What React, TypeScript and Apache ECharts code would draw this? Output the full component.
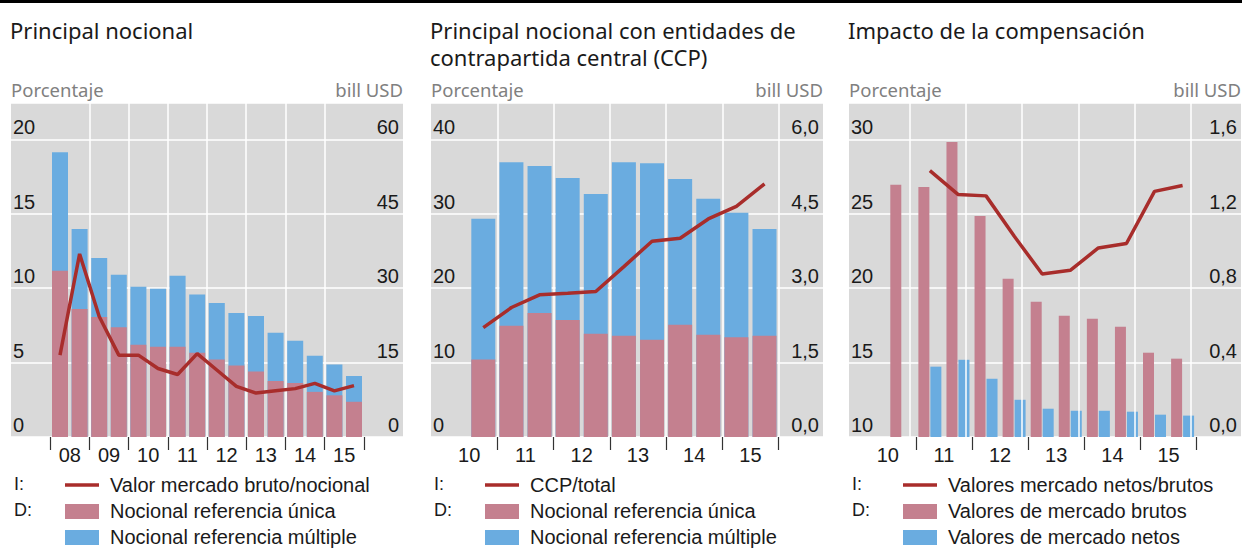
import React, { useEffect, useRef } from 'react';
import * as echarts from 'echarts';

// ---------- Data ----------
// Panel 1: Principal nocional (semesters 2008 H1 .. 2015 H2)
const periods1 = ['2008-1','2008-2','2009-1','2009-2','2010-1','2010-2','2011-1','2011-2','2012-1','2012-2','2013-1','2013-2','2014-1','2014-2','2015-1','2015-2'];
const single1 = [33.5, 25.8, 24.2, 22.1, 18.6, 18.2, 18.2, 17.0, 15.6, 14.4, 13.2, 11.3, 10.9, 9.1, 8.4, 7.1];
const multiple1 = [23.9, 16.1, 11.9, 10.6, 11.7, 11.7, 14.3, 11.7, 11.4, 10.6, 11.2, 9.7, 8.5, 7.3, 6.2, 5.2];
const ratio1 = [5.5, 12.3, 8.1, 5.5, 5.5, 4.6, 4.2, 5.6, 4.5, 3.4, 2.95, 3.1, 3.25, 3.6, 3.1, 3.45];
const years1 = [2008, 2009, 2010, 2011, 2012, 2013, 2014, 2015, 2016];

// Panel 2: CCP (2010 H2 .. 2015 H2)
const periods2 = ['2010-2','2011-1','2011-2','2012-1','2012-2','2013-1','2013-2','2014-1','2014-2','2015-1','2015-2'];
const single2 = [1.56, 2.24, 2.50, 2.36, 2.08, 2.04, 1.96, 2.26, 2.06, 2.01, 2.04];
const multiple2 = [2.84, 3.30, 2.96, 2.86, 2.82, 3.50, 3.56, 2.94, 2.74, 2.51, 2.15];
const ccp2 = [14.7, 17.4, 19.1, 19.3, 19.55, 22.9, 26.3, 26.7, 29.3, 31.0, 34.0];
const years2 = [2010, 2011, 2012, 2013, 2014, 2015, 2016];

// Panel 3: Impacto de la compensación
const periods3 = periods2;
const gross3 = [1.355, 1.344, 1.586, 1.188, 0.850, 0.727, 0.651, 0.635, 0.592, 0.453, 0.421];
const net3: (number | null)[] = [null, 0.378, 0.415, 0.313, 0.200, 0.152, 0.141, 0.141, 0.136, 0.120, 0.115];
const ratio3: (number | null)[] = [null, 27.9, 26.3, 26.2, 23.5, 20.95, 21.2, 22.7, 23.0, 26.5, 26.9];

const titles = ['Principal nocional', 'Principal nocional con entidades de\ncontrapartida central (CCP)', 'Impacto de la compensación'];
const legends = [
  ['Valor mercado bruto/nocional', 'Nocional referencia única', 'Nocional referencia múltiple'],
  ['CCP/total', 'Nocional referencia única', 'Nocional referencia múltiple'],
  ['Valores mercado netos/brutos', 'Valores de mercado brutos', 'Valores de mercado netos'],
];

// ---------- Style ----------
const RED = '#a82d2b';
const PINK = '#c4808f';
const BLUE = '#6aace0';
const BG = '#d9d9d9';
const TXT = '#1a1a1a';
const SANS = '"Liberation Sans", Arial, sans-serif';
const TITLE_FONT = '"Noto Sans", "Open Sans", sans-serif';

const toX = (p: string) => {
  const [y, h] = p.split('-');
  return Number(y) + (h === '1' ? 0.25 : 0.75);
};
const pairs = (periods: string[], vals: (number | null)[]) =>
  periods.map((p, i) => [toX(p), vals[i] == null ? '-' : vals[i]]);
// stacked top = single + multiple (drawn behind the single bar)
const totals = (a: number[], b: number[]) => a.map((v, i) => +(v + b[i]).toFixed(3));

const PLOT_TOP = 103;
const PLOT_H = 334;
const PLOT_W = 392;
const lefts = [11, 431, 849];

export default function App() {
  const ref = useRef<HTMLDivElement>(null);
  useEffect(() => {
    document.body.style.margin = '0';
    if (!ref.current) return;
    const chart = echarts.init(ref.current, undefined, { renderer: 'svg' });

    const xRanges = [
      [2007, 2017],
      [2009.82, 2016.79],
      [2009.81, 2016.79],
    ];
    const yLeft = [
      { min: 0, max: 22.44, interval: 5, fmt: (v: number) => String(v) },
      { min: 0, max: 44.88, interval: 10, fmt: (v: number) => String(v) },
      { min: 10, max: 32.44, interval: 5, fmt: (v: number) => String(v) },
    ];
    const yRight = [
      { min: 0, max: 67.32, interval: 15, fmt: (v: number) => String(v) },
      { min: 0, max: 6.732, interval: 1.5, fmt: (v: number) => v.toFixed(1).replace('.', ',') },
      { min: 0, max: 1.795, interval: 0.4, fmt: (v: number) => v.toFixed(1).replace('.', ',') },
    ];
    const yearSets = [years1, years2, years2];

    const grid = lefts.map((l) => ({
      left: l, top: PLOT_TOP, width: PLOT_W, height: PLOT_H,
      show: true, backgroundColor: BG, borderWidth: 0, containLabel: false, outerBoundsMode: 'none',
    }));

    const xAxis = [0, 1, 2].map((i) => {
      const ys = yearSets[i];
      return {
        type: 'value', gridIndex: i, min: xRanges[i][0], max: xRanges[i][1],
        splitLine: { show: false },
        axisLine: { show: false },
        axisTick: {
          show: true, length: 13, inside: false,
          customValues: (i === 0 ? ys : ys.slice(1)),
          lineStyle: { color: '#333', width: 1.2 },
        },
        axisLabel: {
          show: true, margin: 8,
          customValues: ys.slice(0, -1).map((y) => y + 0.5),
          formatter: (v: number) => String(Math.floor(v)).slice(2),
          fontFamily: SANS, fontSize: 20, color: TXT,
        },
      };
    });

    const yAxis: any[] = [];
    [0, 1, 2].forEach((i) => {
      const L = yLeft[i];
      const R = yRight[i];
      yAxis.push({
        type: 'value', gridIndex: i, position: 'left', min: L.min, max: L.max, interval: L.interval,
        axisLine: { show: false }, axisTick: { show: false },
        splitLine: { show: true, lineStyle: { color: '#ffffff', width: 1.5 } },
        axisLabel: {
          inside: true, margin: 2, showMaxLabel: false, verticalAlign: 'bottom', padding: [0, 0, 2, 0],
          formatter: (v: number) => (Math.abs(v / L.interval - Math.round(v / L.interval)) < 1e-6 ? L.fmt(v) : ''),
          fontFamily: SANS, fontSize: 20, color: TXT,
        },
      });
      yAxis.push({
        type: 'value', gridIndex: i, position: 'right', min: R.min, max: R.max, interval: R.interval,
        axisLine: { show: false }, axisTick: { show: false }, splitLine: { show: false },
        axisLabel: {
          inside: true, margin: 4, showMaxLabel: false, verticalAlign: 'bottom', padding: [0, 0, 2, 0],
          formatter: (v: number) => (Math.abs(v / R.interval - Math.round(v / R.interval)) < 1e-6 ? R.fmt(v) : ''),
          fontFamily: SANS, fontSize: 20, color: TXT,
        },
      });
    });

    const vLines = (years: number[]) => ({
      silent: true, symbol: 'none', animation: false,
      label: { show: false },
      lineStyle: { color: '#ffffff', width: 1.5, type: 'solid' },
      emphasis: { disabled: true },
      data: years.map((y) => ({ xAxis: y })),
    });

    const series: any[] = [
      // Panel 1: blue (total = single + multiple) behind, pink (single) in front
      { type: 'bar', name: 'Nocional referencia múltiple', xAxisIndex: 0, yAxisIndex: 1, barWidth: 16, barGap: '-100%',
        itemStyle: { color: BLUE }, data: pairs(periods1, totals(single1, multiple1)), markLine: vLines(years1.slice(1, -1)), z: 2 },
      { type: 'bar', name: 'Nocional referencia única', xAxisIndex: 0, yAxisIndex: 1, barWidth: 16, barGap: '-100%',
        itemStyle: { color: PINK }, data: pairs(periods1, single1), z: 3 },
      { type: 'line', name: 'Valor mercado bruto/nocional', xAxisIndex: 0, yAxisIndex: 0, symbol: 'none',
        lineStyle: { color: RED, width: 3.5 }, data: pairs(periods1, ratio1), z: 5 },
      // Panel 2
      { type: 'bar', name: 'Nocional referencia múltiple 2', xAxisIndex: 1, yAxisIndex: 3, barWidth: 24, barGap: '-100%',
        itemStyle: { color: BLUE }, data: pairs(periods2, totals(single2, multiple2)), markLine: vLines(years2.slice(1)), z: 2 },
      { type: 'bar', name: 'Nocional referencia única 2', xAxisIndex: 1, yAxisIndex: 3, barWidth: 24, barGap: '-100%',
        itemStyle: { color: PINK }, data: pairs(periods2, single2), z: 3 },
      { type: 'line', name: 'CCP/total', xAxisIndex: 1, yAxisIndex: 2, symbol: 'none',
        lineStyle: { color: RED, width: 3.5 }, data: pairs(periods2, ccp2), z: 5 },
      // Panel 3
      { type: 'bar', name: 'Valores de mercado brutos', xAxisIndex: 2, yAxisIndex: 5, barWidth: 11, barGap: '9%',
        itemStyle: { color: PINK }, data: pairs(periods3, gross3), markLine: vLines(years2.slice(1)) },
      { type: 'bar', name: 'Valores de mercado netos', xAxisIndex: 2, yAxisIndex: 5, barWidth: 11, barGap: '9%',
        itemStyle: { color: BLUE }, data: pairs(periods3, net3) },
      { type: 'line', name: 'Valores mercado netos/brutos', xAxisIndex: 2, yAxisIndex: 4, symbol: 'none', connectNulls: false,
        lineStyle: { color: RED, width: 3.5 }, data: pairs(periods3, ratio3), z: 5 },
    ];

    const graphic: any[] = [
      { type: 'rect', shape: { x: 0, y: 0, width: 1242, height: 3 }, style: { fill: '#000' } },
    ];
    const legOffsets = [0, 420, 838];
    [0, 1, 2].forEach((i) => {
      const l = lefts[i];
      graphic.push({ type: 'text', x: l - 1, y: 16,
        style: { text: titles[i], fontFamily: TITLE_FONT, fontSize: 22, lineHeight: 27, fill: TXT, verticalAlign: 'top', align: 'left' } });
      graphic.push({ type: 'text', x: l, y: 89,
        style: { text: 'Porcentaje', fontFamily: TITLE_FONT, fontSize: 18.5, fill: '#808080', verticalAlign: 'middle', align: 'left' } });
      graphic.push({ type: 'text', x: l + PLOT_W, y: 89,
        style: { text: 'bill USD', fontFamily: TITLE_FONT, fontSize: 18.5, fill: '#808080', verticalAlign: 'middle', align: 'right' } });
      const o = legOffsets[i];
      graphic.push({ type: 'text', x: 14 + o, y: 484, style: { text: 'I:', fontFamily: SANS, fontSize: 18, fill: TXT, verticalAlign: 'middle' } });
      graphic.push({ type: 'text', x: 14 + o, y: 510, style: { text: 'D:', fontFamily: SANS, fontSize: 18, fill: TXT, verticalAlign: 'middle' } });
      graphic.push({ type: 'line', shape: { x1: 65 + o, y1: 485, x2: 99 + o, y2: 485 }, style: { stroke: RED, lineWidth: 3.5 } });
      graphic.push({ type: 'rect', shape: { x: 65 + o, y: 504, width: 34, height: 15 }, style: { fill: PINK } });
      graphic.push({ type: 'rect', shape: { x: 65 + o, y: 530, width: 34, height: 15 }, style: { fill: BLUE } });
      legends[i].forEach((t, k) => {
        graphic.push({ type: 'text', x: 110 + o, y: 485 + k * 26,
          style: { text: t, fontFamily: SANS, fontSize: 20, fill: TXT, verticalAlign: 'middle' } });
      });
    });

    chart.setOption({
      animation: false,
      backgroundColor: '#ffffff',
      grid, xAxis, yAxis, series, graphic,
    });
    return () => chart.dispose();
  }, []);
  return <div ref={ref} style={{ width: 1242, height: 548 }} />;
}
